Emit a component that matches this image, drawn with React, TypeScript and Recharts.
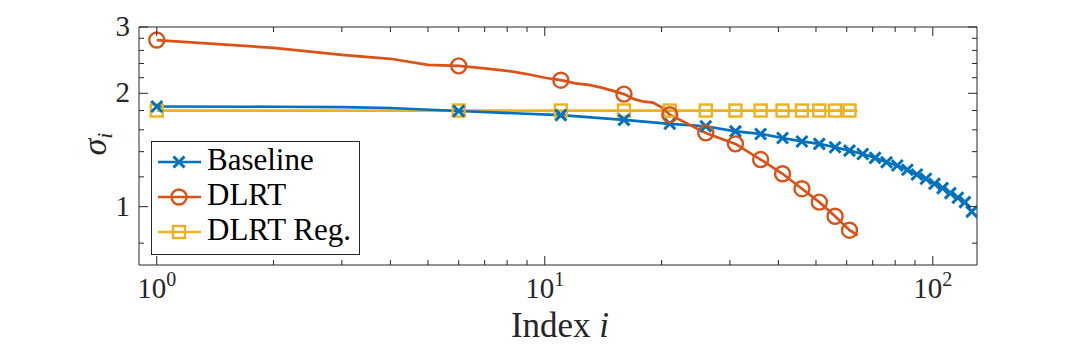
import React from "react";
import { LineChart, Line, XAxis, YAxis, Legend } from "recharts";

// singular values (index i -> sigma_i)
const baselineIdx = [1, 2, 3, 4, 6, 11, 16, 21, 26, 31, 36, 41, 46, 51, 56, 61, 66, 71, 76, 81, 86, 91, 96, 101, 106, 111, 116, 121, 126];
const baselineVals = [1.845, 1.842, 1.837, 1.828, 1.795, 1.75, 1.7, 1.66, 1.635, 1.585, 1.56, 1.522, 1.49, 1.468, 1.438, 1.409, 1.38, 1.348, 1.312, 1.286, 1.253, 1.217, 1.186, 1.15, 1.12, 1.086, 1.056, 1.028, 0.97];

const dlrtIdx = [1, 2, 3, 4, 5, 6, 7, 8, 9, 10, 11, 12, 13, 14, 15, 16, 17, 18, 19, 20, 21, 26, 31, 36, 41, 46, 51, 56, 61, 64];
const dlrtVals = [2.77, 2.64, 2.53, 2.47, 2.38, 2.365, 2.33, 2.295, 2.25, 2.2, 2.167, 2.125, 2.105, 2.07, 2.03, 1.99, 1.93, 1.9, 1.89, 1.835, 1.755, 1.57, 1.468, 1.334, 1.223, 1.116, 1.028, 0.943, 0.866, 0.84];

const regIdx = [1, 6, 11, 16, 21, 26, 31, 36, 41, 46, 51, 56, 61, 64];
const regVals = [1.8, 1.8, 1.8, 1.8, 1.8, 1.8, 1.8, 1.8, 1.8, 1.8, 1.8, 1.8, 1.8, 1.8];

const xMajor = [1, 10, 100];
const xMinor = [2, 3, 4, 5, 6, 7, 8, 9, 20, 30, 40, 50, 60, 70, 80, 90];
const yMajor = [1, 2, 3];
const yMinor = [0.8, 1.2, 1.4, 1.6, 1.8, 2.2, 2.4, 2.6, 2.8];

const BLUE = "#0072BD";
const ORANGE = "#D95319";
const YELLOW = "#EDB120";
const AXIS = "#262626";
const FONT = "Liberation Serif";

const legendItems = [
  { name: "Baseline", color: BLUE, kind: "x" },
  { name: "DLRT", color: ORANGE, kind: "o" },
  { name: "DLRT Reg.", color: YELLOW, kind: "s" },
];

const toRows = (idx: number[], vals: number[]) => idx.map((x, i) => ({ x, y: vals[i] }));

function Marker({ kind, cx, cy, color }: any) {
  if (kind === "x") {
    return (
      <path
        d={`M${cx - 5.5},${cy - 5.5}L${cx + 5.5},${cy + 5.5}M${cx - 5.5},${cy + 5.5}L${cx + 5.5},${cy - 5.5}`}
        stroke={color}
        strokeWidth={3}
        fill="none"
      />
    );
  }
  if (kind === "o") {
    return <circle cx={cx} cy={cy} r={7.5} fill="none" stroke={color} strokeWidth={2.4} />;
  }
  return <rect x={cx - 6} y={cy - 6} width={12} height={12} fill="none" stroke={color} strokeWidth={2.4} />;
}

// markers every 5th index, like MarkerIndices = 1:5:end
const dotFor = (kind: string, color: string) => (props: any) => {
  const { cx, cy, payload, index } = props;
  const key = `${kind}-${index}`;
  if (cx == null || cy == null || (payload.x - 1) % 5 !== 0) return <g key={key} />;
  return (
    <g key={key}>
      <Marker kind={kind} cx={cx} cy={cy} color={color} />
    </g>
  );
};

const BottomTick = ({ x, y, payload }: any) => {
  const major = xMajor.includes(payload.value);
  return (
    <g>
      <line x1={x} x2={x} y1={y} y2={y - (major ? 9 : 5)} stroke={AXIS} />
      {major && (
        <text x={x} y={y + 33} textAnchor="middle" fontSize={29} fontFamily={FONT} fill={AXIS}>
          10
          <tspan dy={-12} fontSize={20}>
            {Math.round(Math.log10(payload.value))}
          </tspan>
        </text>
      )}
    </g>
  );
};

const TopTick = ({ x, y, payload }: any) => {
  const major = xMajor.includes(payload.value);
  return <line x1={x} x2={x} y1={y} y2={y + (major ? 9 : 5)} stroke={AXIS} />;
};

const LeftTick = ({ x, y, payload }: any) => {
  const major = yMajor.includes(payload.value);
  return (
    <g>
      <line x1={x} x2={x + (major ? 9 : 5)} y1={y} y2={y} stroke={AXIS} />
      {major && (
        <text x={x - 9} y={y + 9} textAnchor="end" fontSize={29} fontFamily={FONT} fill={AXIS}>
          {payload.value}
        </text>
      )}
    </g>
  );
};

const RightTick = ({ x, y, payload }: any) => {
  const major = yMajor.includes(payload.value);
  return <line x1={x} x2={x - (major ? 9 : 5)} y1={y} y2={y} stroke={AXIS} />;
};

const LegendBox = () => (
  <div
    style={{
      width: 209,
      height: 114,
      border: `1px solid ${AXIS}`,
      background: "#fff",
      boxSizing: "border-box",
    }}
  >
    <svg width={207} height={112} style={{ display: "block" }}>
      {legendItems.map((it, i) => {
        const cy = 20 + i * 35;
        return (
          <g key={it.name}>
            <line x1={6} x2={49} y1={cy} y2={cy} stroke={it.color} strokeWidth={2.7} />
            <Marker kind={it.kind} cx={27} cy={cy} color={it.color} />
            <text x={55} y={cy + 8} fontSize={31} fontFamily={FONT} fill="#000">
              {it.name}
            </text>
          </g>
        );
      })}
    </svg>
  </div>
);

export default function App() {
  const xTicks = [...xMajor, ...xMinor];
  const yTicks = [...yMajor, ...yMinor];
  return (
    <div style={{ position: "absolute", left: 0, top: 0, width: 1080, height: 349, background: "#fff" }}>
      <LineChart width={1080} height={349} margin={{ top: 26, right: 102, bottom: 0, left: 0 }}>
        <XAxis
          type="number"
          dataKey="x"
          scale="log"
          domain={[0.9, 130]}
          allowDataOverflow
          ticks={xTicks}
          interval={0}
          tickSize={0}
          tickMargin={0}
          height={84}
          tick={<BottomTick />}
          axisLine={{ stroke: AXIS }}
          tickLine={false}
        />
        <XAxis
          xAxisId="top"
          orientation="top"
          type="number"
          dataKey="x"
          scale="log"
          domain={[0.9, 130]}
          allowDataOverflow
          ticks={xTicks}
          interval={0}
          tickSize={0}
          tickMargin={0}
          height={1}
          tick={<TopTick />}
          axisLine={{ stroke: AXIS }}
          tickLine={false}
        />
        <YAxis
          type="number"
          dataKey="y"
          scale="log"
          domain={[0.7, 3]}
          allowDataOverflow
          ticks={yTicks}
          interval={0}
          tickSize={0}
          tickMargin={0}
          width={139}
          tick={<LeftTick />}
          axisLine={{ stroke: AXIS }}
          tickLine={false}
        />
        <YAxis
          yAxisId="right"
          orientation="right"
          type="number"
          dataKey="y"
          scale="log"
          domain={[0.7, 3]}
          allowDataOverflow
          ticks={yTicks}
          interval={0}
          tickSize={0}
          tickMargin={0}
          width={1}
          tick={<RightTick />}
          axisLine={{ stroke: AXIS }}
          tickLine={false}
        />
        {/* same domains on both axis pairs; this series sits on the top/right pair so the full box is drawn */}
        <Line
          xAxisId="top"
          yAxisId="right"
          data={toRows(regIdx, regVals)}
          dataKey="y"
          type="linear"
          stroke={YELLOW}
          strokeWidth={2.7}
          dot={dotFor("s", YELLOW)}
          isAnimationActive={false}
        />
        <Line
          data={toRows(baselineIdx, baselineVals)}
          dataKey="y"
          type="linear"
          stroke={BLUE}
          strokeWidth={2.7}
          dot={dotFor("x", BLUE)}
          isAnimationActive={false}
        />
        <Line
          data={toRows(dlrtIdx, dlrtVals)}
          dataKey="y"
          type="linear"
          stroke={ORANGE}
          strokeWidth={2.7}
          dot={dotFor("o", ORANGE)}
          isAnimationActive={false}
        />
        <Legend
          layout="horizontal"
          verticalAlign="middle"
          align="center"
          content={<LegendBox />}
          wrapperStyle={{ position: "absolute", left: 151, top: 141, width: 209, height: 114 }}
        />
      </LineChart>
      <svg
        width={1080}
        height={349}
        style={{ position: "absolute", left: 0, top: 0, pointerEvents: "none" }}
      >
        <text
          transform="translate(106,144) rotate(-90)"
          textAnchor="middle"
          fontSize={34}
          fontStyle="italic"
          fontFamily={FONT}
          fill={AXIS}
        >
          σ
          <tspan fontSize={22} dy={6}>
            i
          </tspan>
        </text>
        <text x={560} y={337} textAnchor="middle" fontSize={35} fontFamily={FONT} fill={AXIS}>
          Index <tspan fontStyle="italic">i</tspan>
        </text>
      </svg>
    </div>
  );
}
